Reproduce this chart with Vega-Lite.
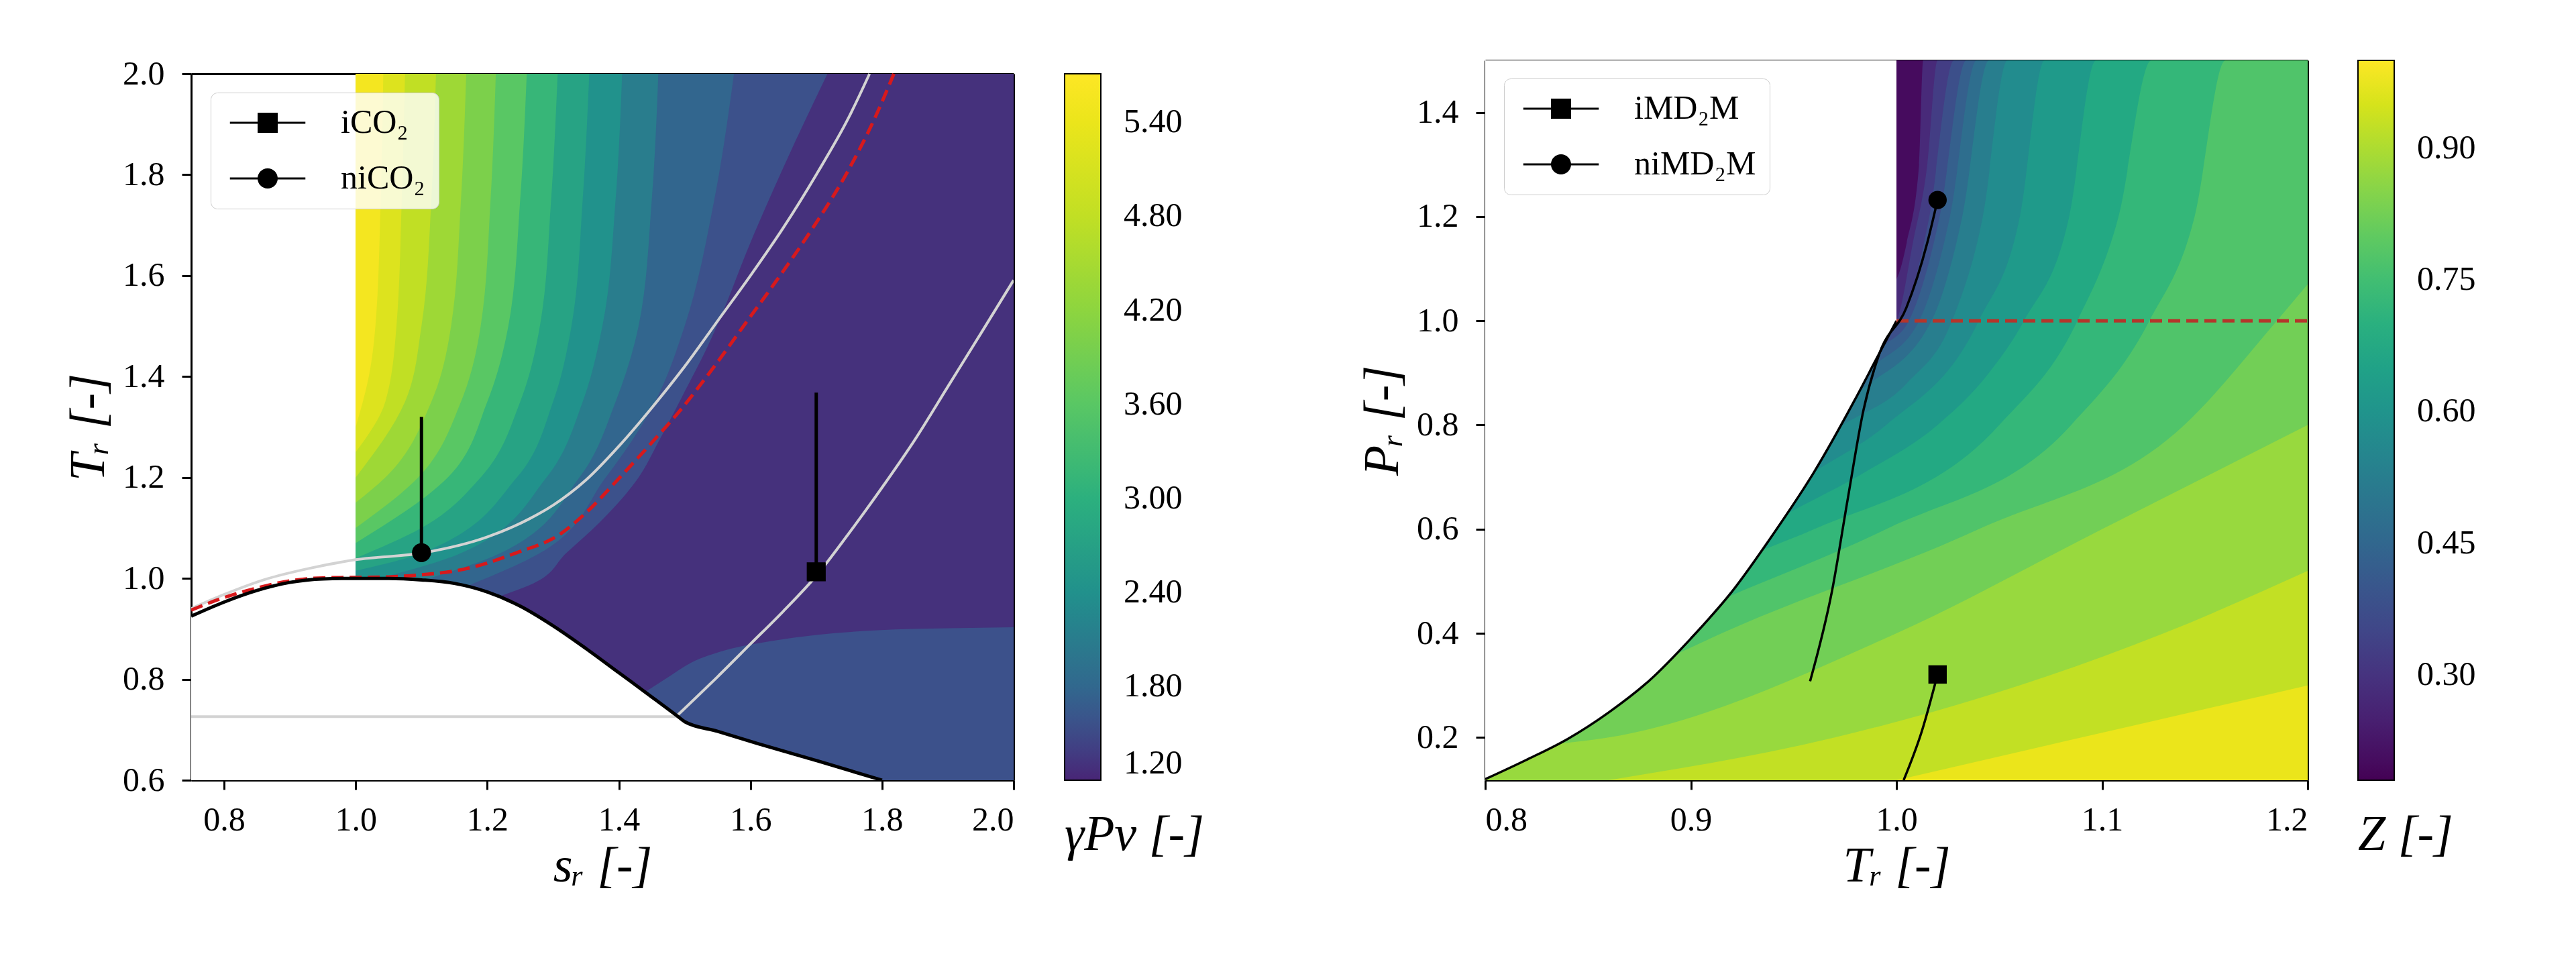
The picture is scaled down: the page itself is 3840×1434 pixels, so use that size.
{
"$schema": "https://vega.github.io/schema/vega-lite/v6.json",
"background": "white",
"padding": {"left": 95, "top": 85, "right": 5, "bottom": 5},
"config": {
  "font": "Liberation Serif",
  "view": {"stroke": null},
  "axis": {"labelFont": "Liberation Serif", "labelFontSize": 50, "labelColor": "black", "titleFont": "Liberation Serif", "titleFontSize": 74, "titleFontWeight": "normal", "titleFontStyle": "italic", "titleColor": "black", "tickColor": "black", "tickWidth": 3, "tickSize": 14, "domainColor": "black", "domainWidth": 3, "grid": false, "zindex": 2},
  "legend": {"labelFont": "Liberation Serif", "labelFontSize": 50, "labelColor": "black", "titleFont": "Liberation Serif", "titleFontSize": 74, "titleFontWeight": "normal", "titleColor": "black", "labelLimit": 500, "titleLimit": 800}
},
"datasets": {
  "gBands": [
    {"b":"a00","g":1.29,"T":0.6,"s":2.0},{"b":"a00","g":1.29,"T":2.0,"s":2.0},
    {"b":"a01","g":1.55,"T":0.965,"s":1.22},{"b":"a01","g":1.55,"T":0.99,"s":1.27},{"b":"a01","g":1.55,"T":1.05,"s":1.32},{"b":"a01","g":1.55,"T":1.11,"s":1.37},{"b":"a01","g":1.55,"T":1.2,"s":1.43},{"b":"a01","g":1.55,"T":1.27,"s":1.46},{"b":"a01","g":1.55,"T":1.37,"s":1.5},{"b":"a01","g":1.55,"T":1.46,"s":1.535},{"b":"a01","g":1.55,"T":1.55,"s":1.565},{"b":"a01","g":1.55,"T":1.64,"s":1.592},{"b":"a01","g":1.55,"T":1.82,"s":1.652},{"b":"a01","g":1.55,"T":2.0,"s":1.717},
    {"b":"a02","g":1.78,"T":0.985,"s":1.17},{"b":"a02","g":1.78,"T":1.05,"s":1.28},{"b":"a02","g":1.78,"T":1.2,"s":1.38},{"b":"a02","g":1.78,"T":1.35,"s":1.455},{"b":"a02","g":1.78,"T":1.5,"s":1.5},{"b":"a02","g":1.78,"T":1.75,"s":1.545},{"b":"a02","g":1.78,"T":2.0,"s":1.575},
    {"b":"a03","g":2.1,"T":0.995,"s":1.1},{"b":"a03","g":2.1,"T":1.05,"s":1.22},{"b":"a03","g":2.1,"T":1.2,"s":1.34},{"b":"a03","g":2.1,"T":1.35,"s":1.395},{"b":"a03","g":2.1,"T":1.5,"s":1.43},{"b":"a03","g":2.1,"T":1.75,"s":1.45},{"b":"a03","g":2.1,"T":2.0,"s":1.46},
    {"b":"a04","g":2.42,"T":0.998,"s":1.03},{"b":"a04","g":2.42,"T":1.05,"s":1.16},{"b":"a04","g":2.42,"T":1.2,"s":1.29},{"b":"a04","g":2.42,"T":1.35,"s":1.345},{"b":"a04","g":2.42,"T":1.5,"s":1.375},{"b":"a04","g":2.42,"T":1.75,"s":1.395},{"b":"a04","g":2.42,"T":2.0,"s":1.405},
    {"b":"a05","g":2.75,"T":1.015,"s":1.0},{"b":"a05","g":2.75,"T":1.05,"s":1.1},{"b":"a05","g":2.75,"T":1.2,"s":1.245},{"b":"a05","g":2.75,"T":1.35,"s":1.3},{"b":"a05","g":2.75,"T":1.5,"s":1.328},{"b":"a05","g":2.75,"T":1.75,"s":1.345},{"b":"a05","g":2.75,"T":2.0,"s":1.355},
    {"b":"a06","g":3.15,"T":1.04,"s":1.0},{"b":"a06","g":3.15,"T":1.1,"s":1.1},{"b":"a06","g":3.15,"T":1.2,"s":1.19},{"b":"a06","g":3.15,"T":1.35,"s":1.25},{"b":"a06","g":3.15,"T":1.5,"s":1.28},{"b":"a06","g":3.15,"T":1.75,"s":1.297},{"b":"a06","g":3.15,"T":2.0,"s":1.307},
    {"b":"a07","g":3.6,"T":1.07,"s":1.0},{"b":"a07","g":3.6,"T":1.2,"s":1.14},{"b":"a07","g":3.6,"T":1.35,"s":1.2},{"b":"a07","g":3.6,"T":1.5,"s":1.232},{"b":"a07","g":3.6,"T":1.75,"s":1.25},{"b":"a07","g":3.6,"T":2.0,"s":1.26},
    {"b":"a08","g":4.0,"T":1.1,"s":1.0},{"b":"a08","g":4.0,"T":1.2,"s":1.095},{"b":"a08","g":4.0,"T":1.35,"s":1.16},{"b":"a08","g":4.0,"T":1.5,"s":1.19},{"b":"a08","g":4.0,"T":1.75,"s":1.205},{"b":"a08","g":4.0,"T":2.0,"s":1.213},
    {"b":"a09","g":4.4,"T":1.15,"s":1.0},{"b":"a09","g":4.4,"T":1.2,"s":1.045},{"b":"a09","g":4.4,"T":1.35,"s":1.115},{"b":"a09","g":4.4,"T":1.5,"s":1.145},{"b":"a09","g":4.4,"T":1.75,"s":1.16},{"b":"a09","g":4.4,"T":2.0,"s":1.168},
    {"b":"a10","g":4.8,"T":1.2,"s":1.0},{"b":"a10","g":4.8,"T":1.35,"s":1.075},{"b":"a10","g":4.8,"T":1.5,"s":1.1},{"b":"a10","g":4.8,"T":1.75,"s":1.115},{"b":"a10","g":4.8,"T":2.0,"s":1.122},
    {"b":"a11","g":5.2,"T":1.25,"s":1.0},{"b":"a11","g":5.2,"T":1.35,"s":1.045},{"b":"a11","g":5.2,"T":1.5,"s":1.062},{"b":"a11","g":5.2,"T":1.75,"s":1.07},{"b":"a11","g":5.2,"T":2.0,"s":1.075},
    {"b":"a12","g":5.55,"T":1.3,"s":1.0},{"b":"a12","g":5.55,"T":1.4,"s":1.02},{"b":"a12","g":5.55,"T":1.5,"s":1.03},{"b":"a12","g":5.55,"T":1.75,"s":1.038},{"b":"a12","g":5.55,"T":2.0,"s":1.042}
  ],
  "gPatch": [
    {"s":1.44,"T":0.775},{"s":1.47,"T":0.8},{"s":1.51,"T":0.833},{"s":1.56,"T":0.857},{"s":1.632,"T":0.876},{"s":1.7,"T":0.888},{"s":1.793,"T":0.897},{"s":1.9,"T":0.901},{"s":2.0,"T":0.903}
  ],
  "dome": [
    {"s":0.75,"T":0.925},{"s":0.8,"T":0.953},{"s":0.85,"T":0.976},{"s":0.9,"T":0.992},{"s":0.95,"T":0.999},{"s":1.0,"T":1.0},{"s":1.05,"T":1.0},{"s":1.1,"T":0.997},{"s":1.15,"T":0.99},{"s":1.2,"T":0.973},{"s":1.25,"T":0.945},{"s":1.3,"T":0.906},{"s":1.35,"T":0.861},{"s":1.4,"T":0.813},{"s":1.45,"T":0.765},{"s":1.49,"T":0.726},{"s":1.5,"T":0.716},{"s":1.55,"T":0.697},{"s":1.6,"T":0.677},{"s":1.7,"T":0.639},{"s":1.8,"T":0.6}
  ],
  "grayH": [{"s":0.75,"T":0.726},{"s":1.487,"T":0.726}],
  "light1": [
    {"s":0.75,"T":0.94},{"s":0.8,"T":0.968},{"s":0.865,"T":0.999},{"s":0.93,"T":1.02},{"s":1.0,"T":1.037},{"s":1.105,"T":1.051},{"s":1.2,"T":1.082},{"s":1.264,"T":1.118},{"s":1.3,"T":1.145},{"s":1.35,"T":1.195},{"s":1.4,"T":1.262},{"s":1.45,"T":1.338},{"s":1.5,"T":1.42},{"s":1.55,"T":1.51},{"s":1.6,"T":1.6},{"s":1.65,"T":1.695},{"s":1.7,"T":1.8},{"s":1.75,"T":1.915},{"s":1.781,"T":2.0}
  ],
  "light2": [
    {"s":1.487,"T":0.726},{"s":1.55,"T":0.805},{"s":1.6,"T":0.87},{"s":1.65,"T":0.935},{"s":1.7,"T":1.005},{"s":1.75,"T":1.09},{"s":1.8,"T":1.18},{"s":1.85,"T":1.275},{"s":1.9,"T":1.38},{"s":1.95,"T":1.485},{"s":2.0,"T":1.591}
  ],
  "redL": [
    {"s":0.75,"T":0.937},{"s":0.8,"T":0.962},{"s":0.85,"T":0.981},{"s":0.9,"T":0.995},{"s":0.95,"T":1.001},{"s":1.0,"T":1.002},{"s":1.05,"T":1.003},{"s":1.1,"T":1.007},{"s":1.164,"T":1.018},{"s":1.245,"T":1.051},{"s":1.31,"T":1.087},{"s":1.35,"T":1.13},{"s":1.4,"T":1.198},{"s":1.45,"T":1.269},{"s":1.492,"T":1.331},{"s":1.545,"T":1.42},{"s":1.595,"T":1.51},{"s":1.645,"T":1.6},{"s":1.695,"T":1.695},{"s":1.745,"T":1.8},{"s":1.79,"T":1.915},{"s":1.818,"T":2.0}
  ],
  "cases": [
    {"name":"iCO₂","s":1.7,"T":1.013,"Ttop":1.368},
    {"name":"niCO₂","s":1.1,"T":1.051,"Ttop":1.32}
  ],
  "zBands": [
    {"b":"z00","z":0.2,"T":0.8,"P":1.5},{"b":"z00","z":0.2,"T":1.2,"P":1.5},
    {"b":"z01","z":0.275,"T":0.8,"P":0.38},{"b":"z01","z":0.275,"T":1.0,"P":1.08},{"b":"z01","z":0.275,"T":1.005,"P":1.15},{"b":"z01","z":0.275,"T":1.011,"P":1.3},{"b":"z01","z":0.275,"T":1.013,"P":1.5},{"b":"z01","z":0.275,"T":1.2,"P":1.5},
    {"b":"z02","z":0.325,"T":0.8,"P":0.3},{"b":"z02","z":0.325,"T":1.0,"P":1.0},{"b":"z02","z":0.325,"T":1.008,"P":1.15},{"b":"z02","z":0.325,"T":1.015,"P":1.3},{"b":"z02","z":0.325,"T":1.02,"P":1.5},{"b":"z02","z":0.325,"T":1.2,"P":1.5},
    {"b":"z03","z":0.375,"T":0.8,"P":0.192},{"b":"z03","z":0.375,"T":0.997,"P":0.98},{"b":"z03","z":0.375,"T":1.002,"P":1.0},{"b":"z03","z":0.375,"T":1.016,"P":1.2},{"b":"z03","z":0.375,"T":1.028,"P":1.5},{"b":"z03","z":0.375,"T":1.2,"P":1.5},
    {"b":"z04","z":0.425,"T":0.8,"P":0.207},{"b":"z04","z":0.425,"T":0.993,"P":0.95},{"b":"z04","z":0.425,"T":1.006,"P":1.0},{"b":"z04","z":0.425,"T":1.021,"P":1.2},{"b":"z04","z":0.425,"T":1.034,"P":1.5},{"b":"z04","z":0.425,"T":1.2,"P":1.5},
    {"b":"z05","z":0.475,"T":0.8,"P":0.177},{"b":"z05","z":0.475,"T":0.988,"P":0.91},{"b":"z05","z":0.475,"T":1.011,"P":1.0},{"b":"z05","z":0.475,"T":1.026,"P":1.2},{"b":"z05","z":0.475,"T":1.039,"P":1.5},{"b":"z05","z":0.475,"T":1.2,"P":1.5},
    {"b":"z06","z":0.525,"T":0.8,"P":0.154},{"b":"z06","z":0.525,"T":0.981,"P":0.86},{"b":"z06","z":0.525,"T":1.017,"P":1.0},{"b":"z06","z":0.525,"T":1.032,"P":1.2},{"b":"z06","z":0.525,"T":1.045,"P":1.5},{"b":"z06","z":0.525,"T":1.2,"P":1.5},
    {"b":"z07","z":0.575,"T":0.8,"P":0.348},{"b":"z07","z":0.575,"T":0.974,"P":0.8},{"b":"z07","z":0.575,"T":1.005,"P":0.88},{"b":"z07","z":0.575,"T":1.027,"P":1.0},{"b":"z07","z":0.575,"T":1.042,"P":1.2},{"b":"z07","z":0.575,"T":1.054,"P":1.5},{"b":"z07","z":0.575,"T":1.2,"P":1.5},
    {"b":"z08","z":0.625,"T":0.8,"P":0.3},{"b":"z08","z":0.625,"T":0.96,"P":0.71},{"b":"z08","z":0.625,"T":0.995,"P":0.8},{"b":"z08","z":0.625,"T":1.04,"P":1.0},{"b":"z08","z":0.625,"T":1.06,"P":1.2},{"b":"z08","z":0.625,"T":1.072,"P":1.5},{"b":"z08","z":0.625,"T":1.2,"P":1.5},
    {"b":"z09","z":0.675,"T":0.8,"P":0.287},{"b":"z09","z":0.675,"T":0.947,"P":0.63},{"b":"z09","z":0.675,"T":0.985,"P":0.71},{"b":"z09","z":0.675,"T":1.02,"P":0.8},{"b":"z09","z":0.675,"T":1.045,"P":0.9},{"b":"z09","z":0.675,"T":1.062,"P":1.0},{"b":"z09","z":0.675,"T":1.084,"P":1.2},{"b":"z09","z":0.675,"T":1.097,"P":1.5},{"b":"z09","z":0.675,"T":1.2,"P":1.5},
    {"b":"z10","z":0.725,"T":0.8,"P":0.344},{"b":"z10","z":0.725,"T":0.935,"P":0.56},{"b":"z10","z":0.725,"T":0.96,"P":0.6},{"b":"z10","z":0.725,"T":1.05,"P":0.8},{"b":"z10","z":0.725,"T":1.088,"P":1.0},{"b":"z10","z":0.725,"T":1.108,"P":1.2},{"b":"z10","z":0.725,"T":1.124,"P":1.5},{"b":"z10","z":0.725,"T":1.2,"P":1.5},
    {"b":"z11","z":0.775,"T":0.8,"P":0.27},{"b":"z11","z":0.775,"T":0.918,"P":0.47},{"b":"z11","z":0.775,"T":0.995,"P":0.6},{"b":"z11","z":0.775,"T":1.085,"P":0.8},{"b":"z11","z":0.775,"T":1.123,"P":1.0},{"b":"z11","z":0.775,"T":1.145,"P":1.2},{"b":"z11","z":0.775,"T":1.16,"P":1.5},{"b":"z11","z":0.775,"T":1.2,"P":1.5},
    {"b":"z12","z":0.825,"T":0.8,"P":0.19},{"b":"z12","z":0.825,"T":0.893,"P":0.36},{"b":"z12","z":0.825,"T":0.915,"P":0.4},{"b":"z12","z":0.825,"T":1.04,"P":0.6},{"b":"z12","z":0.825,"T":1.14,"P":0.8},{"b":"z12","z":0.825,"T":1.185,"P":1.0},{"b":"z12","z":0.825,"T":1.2,"P":1.07},
    {"b":"z13","z":0.875,"T":0.8,"P":0.17},{"b":"z13","z":0.875,"T":0.834,"P":0.187},{"b":"z13","z":0.875,"T":0.86,"P":0.2},{"b":"z13","z":0.875,"T":1.0,"P":0.4},{"b":"z13","z":0.875,"T":1.1,"P":0.6},{"b":"z13","z":0.875,"T":1.2,"P":0.8},
    {"b":"z14","z":0.925,"T":0.86,"P":0.118},{"b":"z14","z":0.925,"T":0.97,"P":0.2},{"b":"z14","z":0.925,"T":1.13,"P":0.4},{"b":"z14","z":0.925,"T":1.2,"P":0.52},
    {"b":"z15","z":0.975,"T":1.0,"P":0.118},{"b":"z15","z":0.975,"T":1.09,"P":0.2},{"b":"z15","z":0.975,"T":1.2,"P":0.3}
  ],
  "sat": [
    {"T":0.8,"P":0.12},{"T":0.82,"P":0.157},{"T":0.84,"P":0.197},{"T":0.86,"P":0.248},{"T":0.88,"P":0.31},{"T":0.9,"P":0.39},{"T":0.92,"P":0.48},{"T":0.94,"P":0.59},{"T":0.96,"P":0.71},{"T":0.98,"P":0.85},{"T":0.99,"P":0.925},{"T":1.0,"P":1.0}
  ],
  "niPath": [
    {"T":0.958,"P":0.308},{"T":0.9687,"P":0.482},{"T":0.9764,"P":0.66},{"T":0.984,"P":0.829},{"T":0.9916,"P":0.936},{"T":1.0048,"P":1.025},{"T":1.015,"P":1.15},{"T":1.02,"P":1.232}
  ],
  "iPath": [{"T":1.0035,"P":0.118},{"T":1.0125,"P":0.214},{"T":1.02,"P":0.321}],
  "redR": [{"T":1.0,"P":1.0},{"T":1.2,"P":1.0}],
  "mdCases": [{"name":"iMD₂M","T":1.02,"P":0.321},{"name":"niMD₂M","T":1.02,"P":1.232}]
},
"bounds": "flush",
"spacing": 703,
"resolve": {"scale": {"color": "independent", "shape": "independent", "x": "independent", "y": "independent"}},
"hconcat": [
  {
    "width": 1226, "height": 1073,
    "resolve": {"axis": {"x": "independent", "y": "independent"}, "scale": {"shape": "independent"}},
    "layer": [
      {
        "data": {"name": "gBands"},
        "mark": {"type": "area", "orient": "horizontal", "interpolate": "monotone", "clip": true},
        "encoding": {
          "y": {"field": "T", "type": "quantitative", "scale": {"domain": [0.6, 2.0], "range": [1073, 20], "nice": false, "zero": false},
                "axis": {"orient": "left", "values": [0.6,0.8,1.0,1.2,1.4,1.6,1.8,2.0], "format": ".1f", "title": "Tᵣ [-]", "labelPadding": 26, "titlePadding": 12}},
          "x": {"field": "s", "type": "quantitative", "stack": null, "scale": {"domain": [0.75, 2.0], "nice": false, "zero": false},
                "axis": {"orient": "bottom", "values": [0.8,1.0,1.2,1.4,1.6,1.8,2.0], "format": ".1f", "title": "sᵣ [-]", "labelPadding": 20, "titlePadding": 8}},
          "x2": {"datum": 1.0},
          "detail": {"field": "b"},
          "color": {"field": "g", "type": "quantitative",
                    "scale": {"domain": [1.2,1.5,1.8,2.4,3.0,3.6,4.2,4.8,5.4,5.71], "range": ["#482576","#3e4c8a","#31688e","#21918c","#2cb07e","#59c764","#8dd53f","#c1df24","#ebe51b","#fde725"], "interpolate": "rgb"},
                    "legend": {"orient": "none", "legendX": 1302, "legendY": 20, "direction": "vertical", "gradientLength": 1053, "gradientThickness": 54, "gradientStrokeColor": "black", "gradientStrokeWidth": 2, "values": [1.2,1.8,2.4,3.0,3.6,4.2,4.8,5.4], "format": ".2f", "labelOffset": 34, "labelBaseline": "middle", "labelOverlap": false, "padding": 0, "title": "γPv [-]", "titleOrient": "bottom", "titleAnchor": "start", "titleFontStyle": "italic", "titlePadding": 45}}
        }
      },
      {
        "data": {"name": "gPatch"},
        "mark": {"type": "area", "orient": "vertical", "interpolate": "monotone", "clip": true},
        "encoding": {
          "x": {"field": "s", "type": "quantitative", "axis": null},
          "y": {"field": "T", "type": "quantitative", "axis": null, "stack": null},
          "y2": {"datum": 0.6},
          "color": {"datum": 1.55, "type": "quantitative"}
        }
      },
      {
        "data": {"name": "dome"},
        "mark": {"type": "area", "orient": "vertical", "interpolate": "monotone", "clip": true, "color": "white"},
        "encoding": {
          "x": {"field": "s", "type": "quantitative", "axis": null},
          "y": {"field": "T", "type": "quantitative", "axis": null, "stack": null},
          "y2": {"datum": 0.6}
        }
      },
      {
        "data": {"name": "grayH"},
        "mark": {"type": "line", "color": "#d3d3d3", "strokeWidth": 4, "clip": true},
        "encoding": {"x": {"field": "s", "type": "quantitative", "axis": null}, "y": {"field": "T", "type": "quantitative", "axis": null}}
      },
      {
        "data": {"name": "light1"},
        "mark": {"type": "line", "color": "#d3d3d3", "strokeWidth": 4, "interpolate": "monotone", "clip": true},
        "encoding": {"x": {"field": "s", "type": "quantitative", "axis": null}, "y": {"field": "T", "type": "quantitative", "axis": null}}
      },
      {
        "data": {"name": "light2"},
        "mark": {"type": "line", "color": "#d3d3d3", "strokeWidth": 4, "interpolate": "monotone", "clip": true},
        "encoding": {"x": {"field": "s", "type": "quantitative", "axis": null}, "y": {"field": "T", "type": "quantitative", "axis": null}}
      },
      {
        "data": {"name": "redL"},
        "mark": {"type": "line", "color": "#d7191c", "strokeWidth": 5, "strokeDash": [18, 9], "interpolate": "monotone", "clip": true},
        "encoding": {"x": {"field": "s", "type": "quantitative", "axis": null}, "y": {"field": "T", "type": "quantitative", "axis": null}}
      },
      {
        "data": {"name": "dome"},
        "mark": {"type": "line", "color": "black", "strokeWidth": 5, "interpolate": "monotone", "clip": true},
        "encoding": {"x": {"field": "s", "type": "quantitative", "axis": null}, "y": {"field": "T", "type": "quantitative", "axis": null}}
      },
      {
        "data": {"name": "cases"},
        "mark": {"type": "rule", "color": "black", "strokeWidth": 5},
        "encoding": {
          "x": {"field": "s", "type": "quantitative", "axis": {"orient": "top", "offset": -20, "labels": false, "ticks": false, "title": null, "domain": true}},
          "y": {"field": "T", "type": "quantitative", "axis": {"orient": "right", "labels": false, "ticks": false, "title": null, "domain": true}},
          "y2": {"field": "Ttop"}
        }
      },
      {
        "data": {"name": "cases"},
        "mark": {"type": "point", "filled": true, "opacity": 1, "color": "black", "strokeWidth": 0},
        "encoding": {
          "x": {"field": "s", "type": "quantitative", "axis": null},
          "y": {"field": "T", "type": "quantitative", "axis": null},
          "shape": {"field": "name", "type": "nominal", "scale": {"domain": ["iCO₂","niCO₂"], "range": ["square","circle"]}, "legend": null},
          "size": {"value": 800}
        }
      },
      {
        "data": {"name": "cases"},
        "mark": {"type": "point", "filled": true, "opacity": 0, "color": "black"},
        "encoding": {
          "x": {"field": "s", "type": "quantitative", "axis": null},
          "y": {"field": "T", "type": "quantitative", "axis": null},
          "size": {"value": 900},
          "shape": {"field": "name", "type": "nominal",
                    "scale": {"domain": ["iCO₂","niCO₂"], "range": ["M-3.75,-0.1L-1,-0.1L-1,0.1L-3.75,0.1Z M1,-0.1L3.75,-0.1L3.75,0.1L1,0.1Z M-1,-1L1,-1L1,1L-1,1Z", "M-3.75,-0.1L-0.95,-0.1L-0.95,0.1L-3.75,0.1Z M0.95,-0.1L3.75,-0.1L3.75,0.1L0.95,0.1Z M-1,0A1,1,0,1,1,1,0A1,1,0,1,1,-1,0Z"]},
                    "legend": {"orient": "none", "legendX": 29, "legendY": 48, "title": null, "symbolSize": 900, "symbolFillColor": "black", "symbolStrokeColor": "black", "symbolStrokeWidth": 0, "symbolOpacity": 1, "symbolOffset": 40, "labelOffset": 84, "padding": 20, "rowPadding": 33, "strokeColor": "#cccccc", "fillColor": "rgba(255,255,255,0.8)", "cornerRadius": 10, "labelFontSize": 50, "labelBaseline": "middle"}}
        }
      }
    ]
  },
  {
    "width": 1226, "height": 1073,
    "resolve": {"axis": {"x": "independent", "y": "independent"}, "scale": {"shape": "independent"}},
    "layer": [
      {
        "data": {"name": "zBands"},
        "mark": {"type": "area", "orient": "vertical", "interpolate": "monotone", "clip": true},
        "encoding": {
          "x": {"field": "T", "type": "quantitative", "scale": {"domain": [0.8, 1.2], "nice": false, "zero": false},
                "axis": {"orient": "bottom", "values": [0.8,0.9,1.0,1.1,1.2], "format": ".1f", "title": "Tᵣ [-]", "labelPadding": 20, "titlePadding": 8}},
          "y": {"field": "P", "type": "quantitative", "stack": null, "scale": {"domain": [0.118, 1.5], "nice": false, "zero": false},
                "axis": {"orient": "left", "values": [0.2,0.4,0.6,0.8,1.0,1.2,1.4], "format": ".1f", "title": "Pᵣ [-]", "labelPadding": 26, "titlePadding": 12}},
          "y2": {"datum": 0.1},
          "detail": {"field": "b"},
          "color": {"field": "z", "type": "quantitative", "scale": {"scheme": "viridis", "domain": [0.18, 1.0]},
                    "legend": {"orient": "none", "legendX": 1301, "legendY": 0, "direction": "vertical", "gradientLength": 1073, "gradientThickness": 54, "gradientStrokeColor": "black", "gradientStrokeWidth": 2, "values": [0.3,0.45,0.6,0.75,0.9], "format": ".2f", "labelOffset": 34, "labelBaseline": "middle", "labelOverlap": false, "padding": 0, "title": "Z [-]", "titleOrient": "bottom", "titleAnchor": "start", "titleFontStyle": "italic", "titlePadding": 45}}
        }
      },
      {
        "data": {"name": "sat"},
        "mark": {"type": "area", "orient": "vertical", "interpolate": "monotone", "clip": true, "color": "white"},
        "encoding": {
          "x": {"field": "T", "type": "quantitative", "axis": null},
          "y": {"field": "P", "type": "quantitative", "axis": null, "stack": null},
          "y2": {"datum": 1.6}
        }
      },
      {
        "data": {"name": "sat"},
        "mark": {"type": "line", "color": "black", "strokeWidth": 3.5, "interpolate": "monotone", "clip": true},
        "encoding": {"x": {"field": "T", "type": "quantitative", "axis": null}, "y": {"field": "P", "type": "quantitative", "axis": null}}
      },
      {
        "data": {"name": "redR"},
        "mark": {"type": "line", "color": "#b5352b", "strokeWidth": 5, "strokeDash": [18, 9], "clip": true},
        "encoding": {"x": {"field": "T", "type": "quantitative", "axis": null}, "y": {"field": "P", "type": "quantitative", "axis": null}}
      },
      {
        "data": {"name": "niPath"},
        "mark": {"type": "line", "color": "black", "strokeWidth": 3.5, "interpolate": "monotone", "clip": true},
        "encoding": {
          "x": {"field": "T", "type": "quantitative", "axis": {"orient": "top", "labels": false, "ticks": false, "title": null, "domain": true}},
          "y": {"field": "P", "type": "quantitative", "axis": {"orient": "right", "labels": false, "ticks": false, "title": null, "domain": true}}
        }
      },
      {
        "data": {"name": "iPath"},
        "mark": {"type": "line", "color": "black", "strokeWidth": 3.5, "interpolate": "monotone", "clip": true},
        "encoding": {"x": {"field": "T", "type": "quantitative", "axis": null}, "y": {"field": "P", "type": "quantitative", "axis": null}}
      },
      {
        "data": {"name": "mdCases"},
        "mark": {"type": "point", "filled": true, "opacity": 1, "color": "black", "strokeWidth": 0},
        "encoding": {
          "x": {"field": "T", "type": "quantitative", "axis": null},
          "y": {"field": "P", "type": "quantitative", "axis": null},
          "shape": {"field": "name", "type": "nominal", "scale": {"domain": ["iMD₂M","niMD₂M"], "range": ["square","circle"]}, "legend": null},
          "size": {"value": 750}
        }
      },
      {
        "data": {"name": "mdCases"},
        "mark": {"type": "point", "filled": true, "opacity": 0, "color": "black"},
        "encoding": {
          "x": {"field": "T", "type": "quantitative", "axis": null},
          "y": {"field": "P", "type": "quantitative", "axis": null},
          "size": {"value": 900},
          "shape": {"field": "name", "type": "nominal",
                    "scale": {"domain": ["iMD₂M","niMD₂M"], "range": ["M-3.75,-0.1L-1,-0.1L-1,0.1L-3.75,0.1Z M1,-0.1L3.75,-0.1L3.75,0.1L1,0.1Z M-1,-1L1,-1L1,1L-1,1Z", "M-3.75,-0.1L-0.95,-0.1L-0.95,0.1L-3.75,0.1Z M0.95,-0.1L3.75,-0.1L3.75,0.1L0.95,0.1Z M-1,0A1,1,0,1,1,1,0A1,1,0,1,1,-1,0Z"]},
                    "legend": {"orient": "none", "legendX": 28, "legendY": 27, "title": null, "symbolSize": 900, "symbolFillColor": "black", "symbolStrokeColor": "black", "symbolStrokeWidth": 0, "symbolOpacity": 1, "symbolOffset": 40, "labelOffset": 84, "padding": 20, "rowPadding": 33, "strokeColor": "#cccccc", "fillColor": "rgba(255,255,255,0.8)", "cornerRadius": 10, "labelFontSize": 50, "labelBaseline": "middle"}}
        }
      }
    ]
  }
]
}
